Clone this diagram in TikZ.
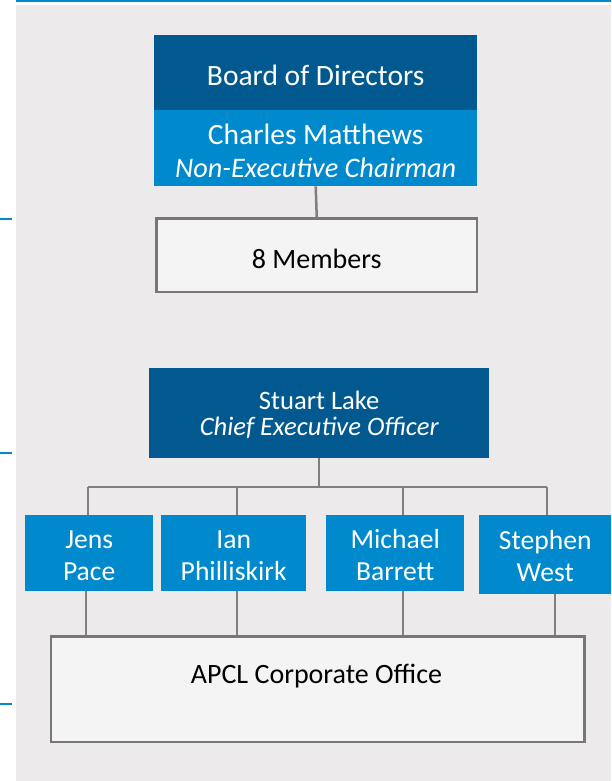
\documentclass[tikz,border=0pt]{standalone}
\usepackage{fontspec}
\setmainfont{Carlito}
\definecolor{bg}{HTML}{ECEAEB}
\definecolor{dblue}{HTML}{02598F}
\definecolor{lblue}{HTML}{0089CC}
\definecolor{boxfill}{HTML}{F4F4F4}
\definecolor{boxline}{HTML}{777777}
\definecolor{conncol}{HTML}{827E7E}
% lower a (possibly multi-line) block of text without changing its declared extent
\newcommand\lowertxt[2]{\raisebox{-#1}[\height][\depth]{\begin{tabular}{@{}c@{}}#2\end{tabular}}}
\tikzset{
  dark/.style={fill=dblue, text=white, inner sep=0pt, align=center, anchor=north west},
  light/.style={fill=lblue, text=white, inner sep=0pt, align=center, anchor=north west},
  whitebox/.style={fill=boxfill, draw=boxline, line width=2.5pt, text=black, inner sep=0pt, align=center, anchor=north west},
  conn/.style={draw=conncol, line width=2.5pt},
  tick/.style={draw=lblue, line width=2pt},
  bigfont/.style={font=\fontsize{29.5}{32.5}\selectfont},
  ceofont/.style={font=\fontsize{26.6}{25}\selectfont},
  namefont/.style={font=\fontsize{27.6}{32}\selectfont},
  boxfont/.style={font=\fontsize{28}{30}\selectfont},
}
\begin{document}
\begin{tikzpicture}[x=1pt,y=-1pt]
\useasboundingbox (0,0) rectangle (611,781);
% background
\fill[bg] (16,5) rectangle (611,781);
\fill[lblue] (16,0) rectangle (611,2.5);
\coordinate (t1a) at (0,219); \coordinate (t1b) at (12,219);
\coordinate (t2a) at (0,453); \coordinate (t2b) at (12,453);
\coordinate (t3a) at (0,704); \coordinate (t3b) at (12,704);
\draw[tick] (t1a) -- (t1b);
\draw[tick] (t2a) -- (t2b);
\draw[tick] (t3a) -- (t3b);
% board
\node[dark, bigfont, minimum width=323pt, minimum height=75pt] (board) at (154,35) {\lowertxt{6pt}{Board of Directors}};
\node[light, bigfont, minimum width=323pt, minimum height=76pt] (chair) at (154,110) {\lowertxt{6.2pt}{Charles Matthews\\\fontsize{28.3}{32.5}\selectfont\itshape Non-Executive Chairman}};
\node[whitebox, boxfont, minimum width=320.5pt, minimum height=73.5pt] (members) at (155.25,217.25) {\lowertxt{7pt}{8 Members}};
\draw[conn] (chair.south) -- (members.north);
% CEO
\node[dark, ceofont, minimum width=340pt, minimum height=90pt] (ceo) at (149,368) {\lowertxt{3.8pt}{Stuart Lake\\\itshape Chief Executive Officer}};
\node[light, namefont, minimum width=128pt, minimum height=76pt] (jens) at (25,515) {\lowertxt{4.6pt}{Jens\\Pace}};
\node[light, namefont, minimum width=145pt, minimum height=76pt] (ian) at (161,515) {\lowertxt{4.6pt}{Ian\\Philliskirk}};
\node[light, namefont, minimum width=138pt, minimum height=76pt] (michael) at (326,515) {\lowertxt{5pt}{Michael\\Barrett}};
\node[light, namefont, minimum width=132pt, minimum height=79pt] (stephen) at (479,515) {\lowertxt{4.1pt}{Stephen\\West}};
\node[whitebox, minimum width=533.5pt, minimum height=105.5pt] (office) at (49.75,635.25) {};
\node[boxfont, anchor=base] (officetext) at (316.5,683) {APCL Corporate Office};
% top connectors
\coordinate (bus) at (319,487);
\coordinate (d1) at (88,487);
\coordinate (d2) at (237,487);
\coordinate (d3) at (403,487);
\coordinate (d4) at (547,487);
\draw[conn] (ceo.south -| bus) -- (bus);
\draw[conn] (d1) -- (d4);
\draw[conn] (d1) -- (d1 |- jens.north);
\draw[conn] (d2) -- (d2 |- ian.north);
\draw[conn] (d3) -- (d3 |- michael.north);
\draw[conn] (d4) -- (d4 |- stephen.north);
% bottom connectors
\coordinate (e1) at (86,0);
\coordinate (e2) at (237,0);
\coordinate (e3) at (403,0);
\coordinate (e4) at (555,0);
\draw[conn] (e1 |- jens.south) -- (e1 |- office.north);
\draw[conn] (e2 |- ian.south) -- (e2 |- office.north);
\draw[conn] (e3 |- michael.south) -- (e3 |- office.north);
\draw[conn] (e4 |- stephen.south) -- (e4 |- office.north);
\end{tikzpicture}
\end{document}
